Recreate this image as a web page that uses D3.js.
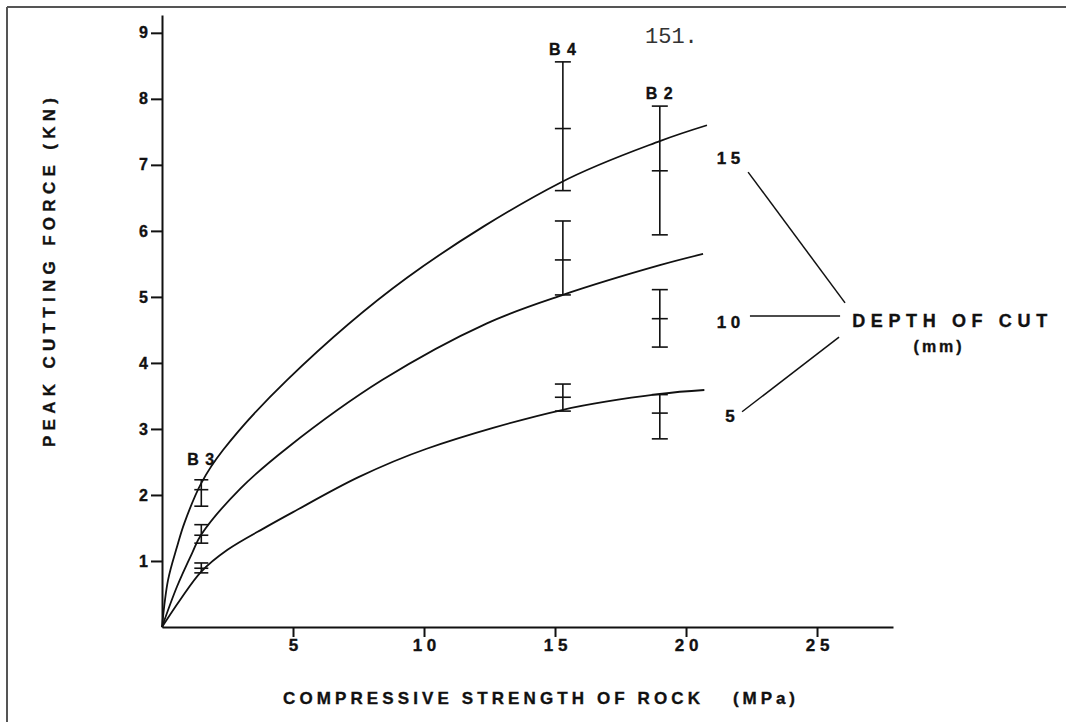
<!DOCTYPE html>
<html>
<head>
<meta charset="utf-8">
<title>Peak cutting force vs compressive strength</title>
<script src="https://cdn.jsdelivr.net/npm/d3@7"></script>
<style>
  body { margin: 0; background: #fff; }
  svg text { font-family: "Liberation Sans", Arial, sans-serif; font-weight: bold; fill: #111; stroke: #111; stroke-width: 0.35px; }
  .axis path, .axis line { stroke: #111; stroke-width: 2; }
  .curve { fill: none; stroke: #111; stroke-width: 1.8; }
  .bar { stroke: #111; stroke-width: 1.6; }
  .leader { stroke: #111; stroke-width: 1.5; }
</style>
</head>
<body>
<script>
// values (x = MPa, y = kN)
var xTicks = [5, 10, 15, 20, 25];
var yTicks = [1, 2, 3, 4, 5, 6, 7, 8, 9];
var depths = ["15", "10", "5"];

var curve15 = [[0,0],[0.23,0.71],[0.57,1.21],[0.85,1.57],[1.5,2.18],[2.33,2.68],[4.77,3.74],[9.35,5.29],[15.2,6.73],[19.0,7.36],[20.8,7.6]];
var curve10 = [[0,0],[0.57,0.61],[1.15,1.12],[1.5,1.4],[3.0,2.1],[4.8,2.72],[8.4,3.74],[12.4,4.6],[15.3,5.03],[19.0,5.48],[20.65,5.65]];
var curve5  = [[0,0],[0.69,0.41],[1.5,0.84],[2.5,1.17],[4.0,1.52],[5.0,1.74],[7.5,2.27],[10.1,2.7],[15.3,3.29],[19.0,3.53],[20.7,3.59]];

var rocks = ["B3", "B4", "B2"];
var rockStrength = [1.5, 15.3, 19.0];
// [low, mean, high] for each rock
var bars15 = [[1.83,2.08,2.23],[6.61,7.55,8.56],[5.94,6.91,7.89]];
var bars10 = [[1.27,1.39,1.55],[5.03,5.56,6.15],[4.24,4.67,5.11]];
var bars5  = [[0.82,0.89,0.97],[3.27,3.48,3.68],[2.85,3.24,3.52]];

var width = 1066, height = 722;

var svg = d3.select("body").append("svg")
    .attr("width", width)
    .attr("height", height);

// page frame (top and left edges of the scan)
svg.append("line").attr("x1", 7).attr("y1", 7).attr("x2", width).attr("y2", 7)
    .attr("stroke", "#555").attr("stroke-width", 2);
svg.append("line").attr("x1", 7).attr("y1", 7).attr("x2", 7).attr("y2", height)
    .attr("stroke", "#555").attr("stroke-width", 2);

// scales
var x = d3.scaleLinear().domain([0, 27.9]).range([162, 893]);
var y = d3.scaleLinear().domain([0, 9.27]).range([627, 15]);

// x axis
var xAxis = svg.append("g")
    .attr("class", "axis")
    .attr("transform", "translate(0," + y(0) + ")")
    .call(d3.axisBottom(x)
        .tickValues(xTicks)
        .tickSize(10)
        .tickSizeOuter(0)
        .tickPadding(2)
        .tickFormat(function(d) { return String(d).split("").join(" "); }));
xAxis.selectAll("text")
    .style("font-size", "17px")
    .style("font-family", "'Liberation Sans', Arial, sans-serif");

// y axis
var yAxis = svg.append("g")
    .attr("class", "axis")
    .attr("transform", "translate(" + x(0) + ",0)")
    .call(d3.axisLeft(y)
        .tickValues(yTicks)
        .tickSize(11)
        .tickSizeOuter(0)
        .tickPadding(3));
yAxis.selectAll("text")
    .style("font-size", "16px")
    .style("font-family", "'Liberation Sans', Arial, sans-serif");

// curves
var line = d3.line()
    .x(function(d) { return x(d[0]); })
    .y(function(d) { return y(d[1]); })
    .curve(d3.curveCatmullRom.alpha(0.5));

var curves = [curve15, curve10, curve5];
svg.selectAll(".curve")
    .data(curves)
    .enter().append("path")
    .attr("class", "curve")
    .attr("stroke-width", function(d, i) { return i == 2 ? 2.4 : 1.8; })
    .attr("d", line);

// error bars
var bars = [bars15, bars10, bars5];
bars.forEach(function(set) {
    set.forEach(function(b, i) {
        var g = svg.append("g");
        var cx = x(rockStrength[i]);
        var hw = i == 0 ? 7 : 8;
        g.append("line").attr("class", "bar")
            .attr("x1", cx).attr("x2", cx)
            .attr("y1", y(b[0])).attr("y2", y(b[2]));
        g.selectAll(".cap")
            .data(b)
            .enter().append("line")
            .attr("class", "bar")
            .attr("x1", cx - hw).attr("x2", cx + hw)
            .attr("y1", function(d) { return y(d); })
            .attr("y2", function(d) { return y(d); });
    });
});

// rock labels above the 15 mm bars
svg.selectAll(".rock")
    .data(rocks)
    .enter().append("text")
    .attr("class", "rock")
    .attr("x", function(d, i) { return x(rockStrength[i]); })
    .attr("y", function(d, i) { return y(bars15[i][2]) - (i == 0 ? 15 : 7); })
    .attr("text-anchor", "middle")
    .style("font-size", "16px")
    .style("letter-spacing", "1px")
    .text(function(d) { return d.split("").join(" "); });

// depth of cut labels and leader lines
var labelPos = [[21.62, 7.02], [21.62, 4.53], [21.68, 3.11]];
svg.selectAll(".depth")
    .data(depths)
    .enter().append("text")
    .attr("class", "depth")
    .attr("x", function(d, i) { return x(labelPos[i][0]); })
    .attr("y", function(d, i) { return y(labelPos[i][1]); })
    .attr("text-anchor", "middle")
    .style("font-size", "17px")
    .text(function(d) { return d.split("").join(" "); });

var leaders = [[[22.37, 6.89], [26.07, 4.91]], [[22.44, 4.71], [25.88, 4.71]], [[22.14, 3.26], [25.84, 4.39]]];
svg.selectAll(".leader")
    .data(leaders)
    .enter().append("line")
    .attr("class", "leader")
    .attr("x1", function(d) { return x(d[0][0]); })
    .attr("y1", function(d) { return y(d[0][1]); })
    .attr("x2", function(d) { return x(d[1][0]); })
    .attr("y2", function(d) { return y(d[1][1]); });

svg.append("text")
    .attr("x", x(26.34)).attr("y", y(4.55))
    .attr("textLength", 195).attr("lengthAdjust", "spacing")
    .style("font-size", "18px")
    .text("DEPTH OF CUT");
svg.append("text")
    .attr("x", x(29.66)).attr("y", y(4.17))
    .attr("text-anchor", "middle")
    .style("font-size", "16px")
    .style("letter-spacing", "3px")
    .text("(mm)");

// axis titles
svg.append("text")
    .attr("transform", "translate(55,447) rotate(-90)")
    .attr("textLength", 349).attr("lengthAdjust", "spacing")
    .style("font-size", "17px")
    .text("PEAK CUTTING FORCE (KN)");

svg.append("text")
    .attr("x", 283).attr("y", 704)
    .attr("textLength", 417).attr("lengthAdjust", "spacing")
    .style("font-size", "17px")
    .text("COMPRESSIVE STRENGTH OF ROCK");
svg.append("text")
    .attr("x", 733).attr("y", 704)
    .attr("textLength", 62).attr("lengthAdjust", "spacing")
    .style("font-size", "17px")
    .text("(MPa)");

// page number
svg.append("text")
    .attr("x", 645).attr("y", 43)
    .style("font-family", "'Liberation Mono', 'DejaVu Sans Mono', monospace")
    .style("font-weight", "normal")
    .style("font-size", "22px")
    .style("fill", "#333")
    .style("stroke", "none")
    .text("151.");
</script>
</body>
</html>
